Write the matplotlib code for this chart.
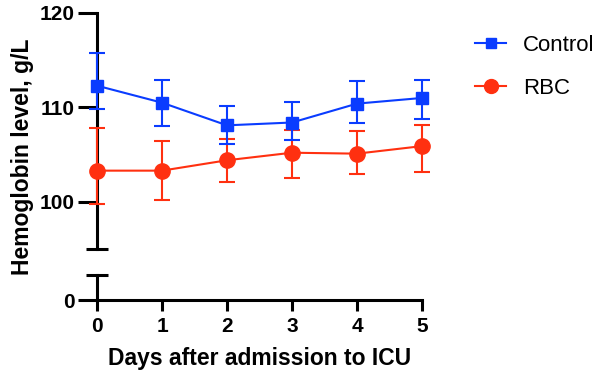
import matplotlib
matplotlib.use("Agg")
import matplotlib.pyplot as plt
from matplotlib.lines import Line2D

plt.rcParams["font.family"] = ["Liberation Sans", "DejaVu Sans"]

days = [0, 1, 2, 3, 4, 5]

control_mean = [112.3, 110.5, 108.1, 108.4, 110.4, 111.0]
control_upper = [115.8, 112.9, 110.2, 110.6, 112.8, 112.9]
control_lower = [109.8, 108.0, 106.1, 106.5, 108.3, 108.8]

rbc_mean = [103.3, 103.3, 104.4, 105.2, 105.1, 105.9]
rbc_upper = [107.8, 106.4, 106.7, 107.6, 107.5, 108.1]
rbc_lower = [99.8, 100.2, 102.1, 102.5, 102.9, 103.2]

blue = "#0A3CFF"
red = "#FF3010"

W, H = 598, 377
fig = plt.figure(figsize=(W / 100, H / 100), dpi=100)


def frac(x0, y0, x1, y1):
    return [x0 / W, 1 - y1 / H, (x1 - x0) / W, (y1 - y0) / H]


ax = fig.add_axes(frac(97, 13, 422, 249))
axb = fig.add_axes(frac(97, 275, 422, 300))

lw = 2.2
for a in (ax, axb):
    a.set_xlim(0, 5)
    a.spines["top"].set_visible(False)
    a.spines["right"].set_visible(False)
    a.spines["left"].set_linewidth(lw)
    a.spines["bottom"].set_linewidth(lw)
    a.patch.set_visible(False)

ax.set_ylim(95, 120)
ax.spines["bottom"].set_visible(False)
ax.set_yticks([100, 110, 120])
ax.tick_params(axis="x", bottom=False, labelbottom=False)
ax.tick_params(axis="y", length=14, width=lw, labelsize=15, pad=2)

axb.set_ylim(0, 1)
axb.set_yticks([0])
axb.set_xticks(days)
axb.tick_params(axis="y", length=14, width=lw, labelsize=15, pad=2)
axb.tick_params(axis="x", length=8, width=lw, labelsize=15, pad=4)
for lab in ax.get_yticklabels() + axb.get_yticklabels() + axb.get_xticklabels():
    lab.set_fontweight("bold")

# break caps on the y axis
ax.plot([-0.17, 0.17], [95, 95], color="black", lw=lw, clip_on=False,
        solid_capstyle="butt")
axb.plot([-0.17, 0.17], [1, 1], color="black", lw=lw, clip_on=False,
         solid_capstyle="butt")

c_err = [[m - l for m, l in zip(control_mean, control_lower)],
         [u - m for m, u in zip(control_mean, control_upper)]]
r_err = [[m - l for m, l in zip(rbc_mean, rbc_lower)],
         [u - m for m, u in zip(rbc_mean, rbc_upper)]]

h1 = ax.errorbar(days, control_mean, yerr=c_err, color=blue, marker="s",
                 markersize=8, lw=1.5, elinewidth=1.5, capsize=6,
                 capthick=1.5, clip_on=False, zorder=5)
h2 = ax.errorbar(days, rbc_mean, yerr=r_err, color=red, marker="o",
                 markersize=11, lw=1.5, elinewidth=1.5, capsize=6,
                 capthick=1.5, clip_on=False, zorder=4)
for h in (h1, h2):
    for part in h.lines[1] + h.lines[2]:
        part.set_clip_on(False)

fig.text(22 / W, 1 - 157 / H, "Hemoglobin level, g/L", rotation=90,
         ha="center", va="center", fontsize=16.5, fontweight="bold")
fig.text(260 / W, 1 - 358 / H, "Days after admission to ICU",
         ha="center", va="center", fontsize=16.5, fontweight="bold")

leg_handles = [
    Line2D([], [], color=blue, marker="s", markersize=7, lw=1.5),
    Line2D([], [], color=red, marker="o", markersize=10, lw=1.5),
]
fig.legend(leg_handles, ["Control", "RBC"], loc="upper left",
           bbox_to_anchor=(475 / W, 1 - 35 / H), frameon=False,
           fontsize=16, handlelength=1.4, labelspacing=1.0,
           handletextpad=0.75, borderaxespad=0, borderpad=0)

fig.savefig("out.png", dpi=100)
